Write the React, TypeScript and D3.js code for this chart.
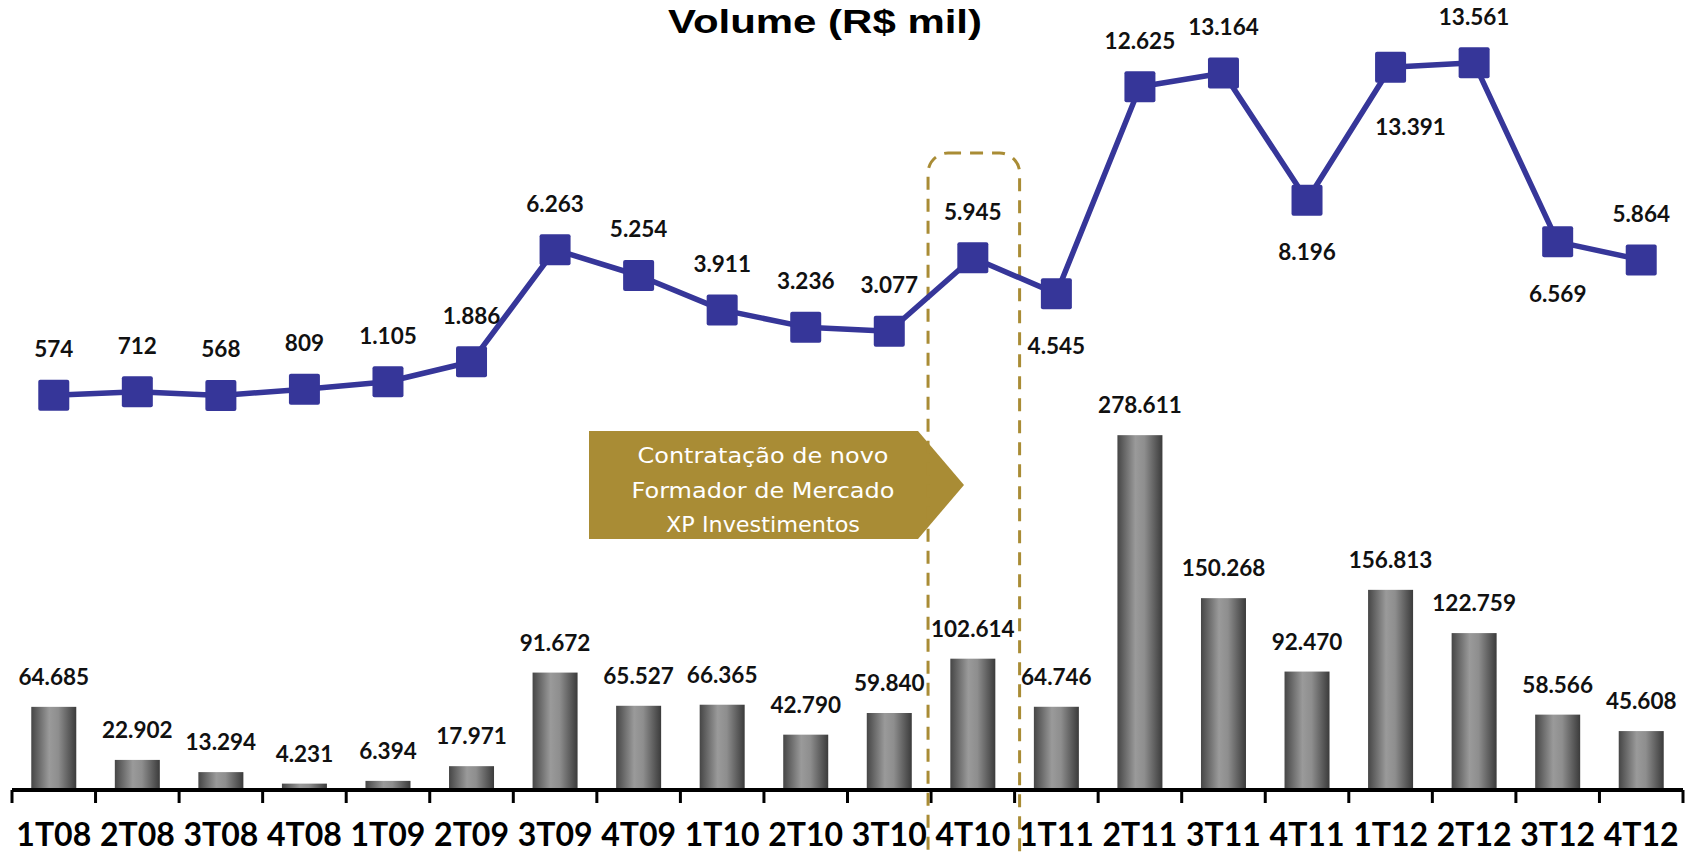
import React from "react";
import * as d3 from "d3";

// Quarterly categories
const quarters = [
  "1T08", "2T08", "3T08", "4T08", "1T09", "2T09", "3T09", "4T09", "1T10", "2T10",
  "3T10", "4T10", "1T11", "2T11", "3T11", "4T11", "1T12", "2T12", "3T12", "4T12",
];

// Bar series (R$ mil)
const barValues = [
  64685, 22902, 13294, 4231, 6394, 17971, 91672, 65527, 66365, 42790,
  59840, 102614, 64746, 278611, 150268, 92470, 156813, 122759, 58566, 45608,
];

// Line series
const lineValues = [
  574, 712, 568, 809, 1105, 1886, 6263, 5254, 3911, 3236,
  3077, 5945, 4545, 12625, 13164, 8196, 13391, 13561, 6569, 5864,
];

// Line label placement: true = below the marker
const labelBelow = [
  false, false, false, false, false, false, false, false, false, false,
  false, false, true, false, false, true, true, false, true, false,
];

const calloutLines = ["Contratação de novo", "Formador de Mercado", "XP Investimentos"];
const highlightQuarter = "4T10";

const W = 1689;
const H = 855;
const GOLD = "#a98c35";
const BLUE = "#363699";

const ptBR = d3.formatLocale({
  decimal: ",",
  thousands: ".",
  grouping: [3],
  currency: ["R$", ""],
});
const fmt = ptBR.format(",d");

export default function App() {
  const x = d3.scaleBand<string>().domain(quarters).range([12, 1683]).padding(0);
  const bw = 45;
  const baseY = 789;
  const yBar = d3.scaleLinear().domain([0, 300000]).range([baseY, baseY - 381]);
  const yLine = d3.scaleLinear().domain([0, 14000]).range([410, 410 - 358.4]);

  const cx = (q: string) => (x(q) as number) + x.bandwidth() / 2;

  const linePath = d3
    .line<number>()
    .x((_, i) => cx(quarters[i]))
    .y((v) => yLine(v))(lineValues) as string;

  const hx0 = x(highlightQuarter) as number;

  const labelFont = "Lato, 'Open Sans', sans-serif";
  const calloutWidths = [251, 263, 194];

  return (
    <svg
      width={W}
      height={H}
      style={{ position: "absolute", left: 0, top: 0, background: "#fff" }}
    >
      <defs>
        <linearGradient id="barGrad" x1="0" x2="1" y1="0" y2="0">
          <stop offset="0%" stopColor="#464646" />
          <stop offset="40%" stopColor="#9a9a9a" />
          <stop offset="60%" stopColor="#8e8e8e" />
          <stop offset="100%" stopColor="#3b3b3b" />
        </linearGradient>
      </defs>

      {/* Title */}
      <text
        x={668}
        y={33}
        fontFamily="'Liberation Sans', Arial, sans-serif"
        fontWeight="bold"
        fontSize={34}
        textLength={314}
        lengthAdjust="spacingAndGlyphs"
        fill="#000"
      >
        Volume (R$ mil)
      </text>

      {/* Bars */}
      {barValues.map((v, i) => {
        const q = quarters[i];
        const top = yBar(v);
        return (
          <g key={q}>
            <rect x={cx(q) - bw / 2} y={top} width={bw} height={baseY - top} fill="url(#barGrad)" />
            <text
              x={cx(q)}
              y={top - 22}
              textAnchor="middle"
              fontFamily={labelFont}
              fontWeight="bold"
              fontSize={22.5}
              fill="#111"
            >
              {fmt(v)}
            </text>
          </g>
        );
      })}

      {/* Axis */}
      <line x1={12} x2={1683} y1={790} y2={790} stroke="#000" strokeWidth={4} />
      {[...quarters.map((q) => x(q) as number), 1683].map((tx, i) => (
        <line key={i} x1={tx} x2={tx} y1={790} y2={803} stroke="#000" strokeWidth={3} />
      ))}
      {quarters.map((q) => (
        <text
          key={q}
          x={cx(q)}
          y={846}
          textAnchor="middle"
          fontFamily={labelFont}
          fontWeight="bold"
          fontSize={32}
          fill="#000"
        >
          {q}
        </text>
      ))}

      {/* Callout arrow */}
      <polygon points="589,431 918,431 964,485 918,539 589,539" fill={GOLD} />
      {calloutLines.map((t, i) => (
        <text
          key={t}
          x={763}
          y={463 + i * 34.5}
          textAnchor="middle"
          fontFamily="'DejaVu Sans', sans-serif"
          fontSize={22}
          textLength={calloutWidths[i]}
          lengthAdjust="spacingAndGlyphs"
          fill="#fff"
        >
          {t}
        </text>
      ))}

      {/* Highlight frame */}
      <rect
        x={hx0 - 3}
        y={153}
        width={x.bandwidth() + 8}
        height={720}
        rx={20}
        ry={20}
        fill="none"
        stroke={GOLD}
        strokeWidth={3}
        strokeDasharray="13 9"
      />

      {/* Line series */}
      <path d={linePath} fill="none" stroke={BLUE} strokeWidth={5.5} strokeLinejoin="round" />
      {lineValues.map((v, i) => {
        const q = quarters[i];
        const px = cx(q);
        const py = yLine(v);
        const below = labelBelow[i];
        const dy = below ? (v > 13000 ? 68 : 60) : -38;
        const dx = below && v > 13000 ? 20 : 0;
        return (
          <g key={q}>
            <rect x={px - 15.5} y={py - 15.5} width={31} height={31} rx={2} fill={BLUE} />
            <text
              x={px + dx}
              y={py + dy}
              textAnchor="middle"
              fontFamily={labelFont}
              fontWeight="bold"
              fontSize={22.5}
              fill="#111"
            >
              {fmt(v)}
            </text>
          </g>
        );
      })}
    </svg>
  );
}
